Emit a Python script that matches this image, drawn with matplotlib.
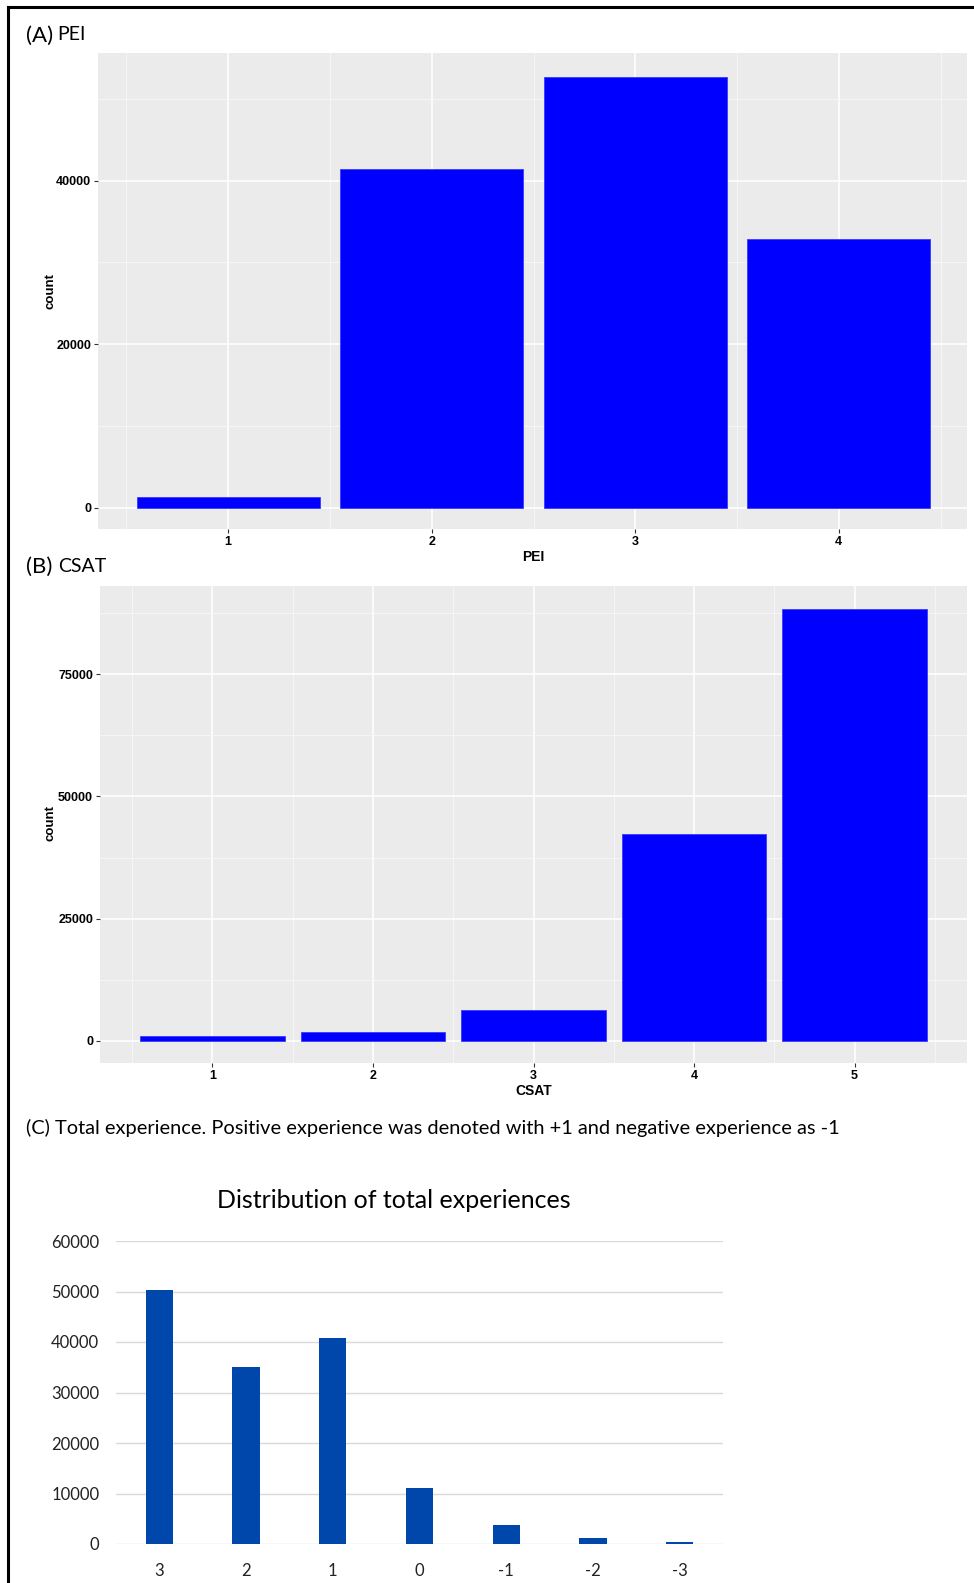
import matplotlib
matplotlib.use('Agg')
import matplotlib.pyplot as plt
from matplotlib.lines import Line2D

W, H = 974, 1583

# (A) PEI counts
pei_levels = [1, 2, 3, 4]
pei_counts = [1300, 41400, 52700, 32900]

# (B) CSAT counts
csat_levels = [1, 2, 3, 4, 5]
csat_counts = [950, 1800, 6400, 42400, 88300]

# (C) total experience distribution
total_labels = ["3", "2", "1", "0", "-1", "-2", "-3"]
total_counts = [50300, 35100, 40700, 11000, 3760, 1190, 460]

GG_FONT = ["Liberation Sans", "DejaVu Sans"]
XL_FONT = ["Lato", "DejaVu Sans"]
BLUE = "#0000ff"
XL_BLUE = "#0047ab"


def rect(l, t, r, b):
    # pixel box -> figure fraction
    return [l / W, 1 - b / H, (r - l) / W, (b - t) / H]


def gg_panel(ax, x, y, xlim, ylim, yticks, yminor, xminor):
    ax.set_facecolor("#ebebeb")
    ax.bar(x, y, width=0.9, color=BLUE, edgecolor="#3a3aff", linewidth=0.6, zorder=3)
    ax.set_xlim(*xlim)
    ax.set_ylim(*ylim)
    ax.set_xticks(x)
    ax.set_xticklabels([str(v) for v in x])
    ax.set_yticks(yticks)
    ax.set_yticklabels([str(v) for v in yticks])
    ax.set_xticks(xminor, minor=True)
    ax.set_yticks(yminor, minor=True)
    ax.grid(True, which="major", color="white", linewidth=1.1, zorder=0)
    ax.grid(True, which="minor", color="#f7f7f7", linewidth=0.6, zorder=0)
    ax.set_axisbelow(True)
    for s in ax.spines.values():
        s.set_visible(False)
    ax.tick_params(which="major", length=3, width=0.8, color="#333333", pad=2,
                   labelsize=9)
    ax.tick_params(which="minor", length=0)
    for lab in ax.get_xticklabels() + ax.get_yticklabels():
        lab.set_fontweight("bold")
        lab.set_family(GG_FONT)
        lab.set_color("black")


fig = plt.figure(figsize=(W / 100, H / 100), dpi=100)

# outer frame (left + top)
fig.add_artist(Line2D([8 / W, 8 / W], [0, 1 - 7 / H], color="black", linewidth=2.2))
fig.add_artist(Line2D([8 / W, 1], [1 - 7 / H, 1 - 7 / H], color="black", linewidth=2.2))

# ---- (A) PEI
axA = fig.add_axes(rect(98, 53, 967, 529))
gg_panel(axA, pei_levels, pei_counts, (0.36, 4.63), (-2570, 55600),
         [0, 20000, 40000], [10000, 30000, 50000], [0.5, 1.5, 2.5, 3.5, 4.5])
fig.text(26 / W, 1 - 36 / H, "(A)", fontsize=16, family=XL_FONT, va="center")
fig.text(57 / W, 1 - 34 / H, "PEI", fontsize=14, family=XL_FONT, va="center")
fig.text(533 / W, 1 - 557 / H, "PEI", fontsize=10, fontweight="bold", family=GG_FONT,
         ha="center", va="center")
fig.text(50 / W, 1 - 291 / H, "count", fontsize=9.5, fontweight="bold", family=GG_FONT,
         rotation=90, ha="center", va="center")

# ---- (B) CSAT
axB = fig.add_axes(rect(100, 586, 967, 1063))
gg_panel(axB, csat_levels, csat_counts, (0.3, 5.7), (-4500, 93000),
         [0, 25000, 50000, 75000], [12500, 37500, 62500, 87500],
         [0.5, 1.5, 2.5, 3.5, 4.5, 5.5])
fig.text(26 / W, 1 - 567 / H, "(B)", fontsize=16, family=XL_FONT, va="center")
fig.text(58 / W, 1 - 566 / H, "CSAT", fontsize=14, family=XL_FONT, va="center")
fig.text(534 / W, 1 - 1091 / H, "CSAT", fontsize=10, fontweight="bold", family=GG_FONT,
         ha="center", va="center")
fig.text(51 / W, 1 - 823 / H, "count", fontsize=9.5, fontweight="bold", family=GG_FONT,
         rotation=90, ha="center", va="center")

# ---- (C) total experience
fig.text(26 / W, 1 - 1128 / H,
         "(C) Total experience. Positive experience was denoted with +1 and negative experience as -1",
         fontsize=14.4, family=XL_FONT, va="center")
fig.text(394 / W, 1 - 1201 / H, "Distribution of total experiences", fontsize=18,
         family=XL_FONT, ha="center", va="center")

axC = fig.add_axes(rect(116, 1241, 723, 1544))
xs = list(range(len(total_labels)))
axC.bar(xs, total_counts, width=0.315, color=XL_BLUE, zorder=3)
axC.set_xlim(-0.5, 6.5)
axC.set_ylim(0, 60000)
axC.set_yticks(range(0, 60001, 10000))
axC.set_yticklabels([str(v) for v in range(0, 60001, 10000)])
axC.set_xticks(xs)
axC.set_xticklabels(total_labels)
axC.grid(True, axis="y", color="#d9d9d9", linewidth=1.0, zorder=0)
axC.set_axisbelow(True)
for s in axC.spines.values():
    s.set_visible(False)
axC.tick_params(axis="y", length=0, labelsize=12, pad=12)
axC.tick_params(axis="x", length=0, labelsize=12, pad=14)
for lab in axC.get_xticklabels() + axC.get_yticklabels():
    lab.set_family(XL_FONT)
    lab.set_color("#222222")

fig.savefig("out.png", dpi=100)
